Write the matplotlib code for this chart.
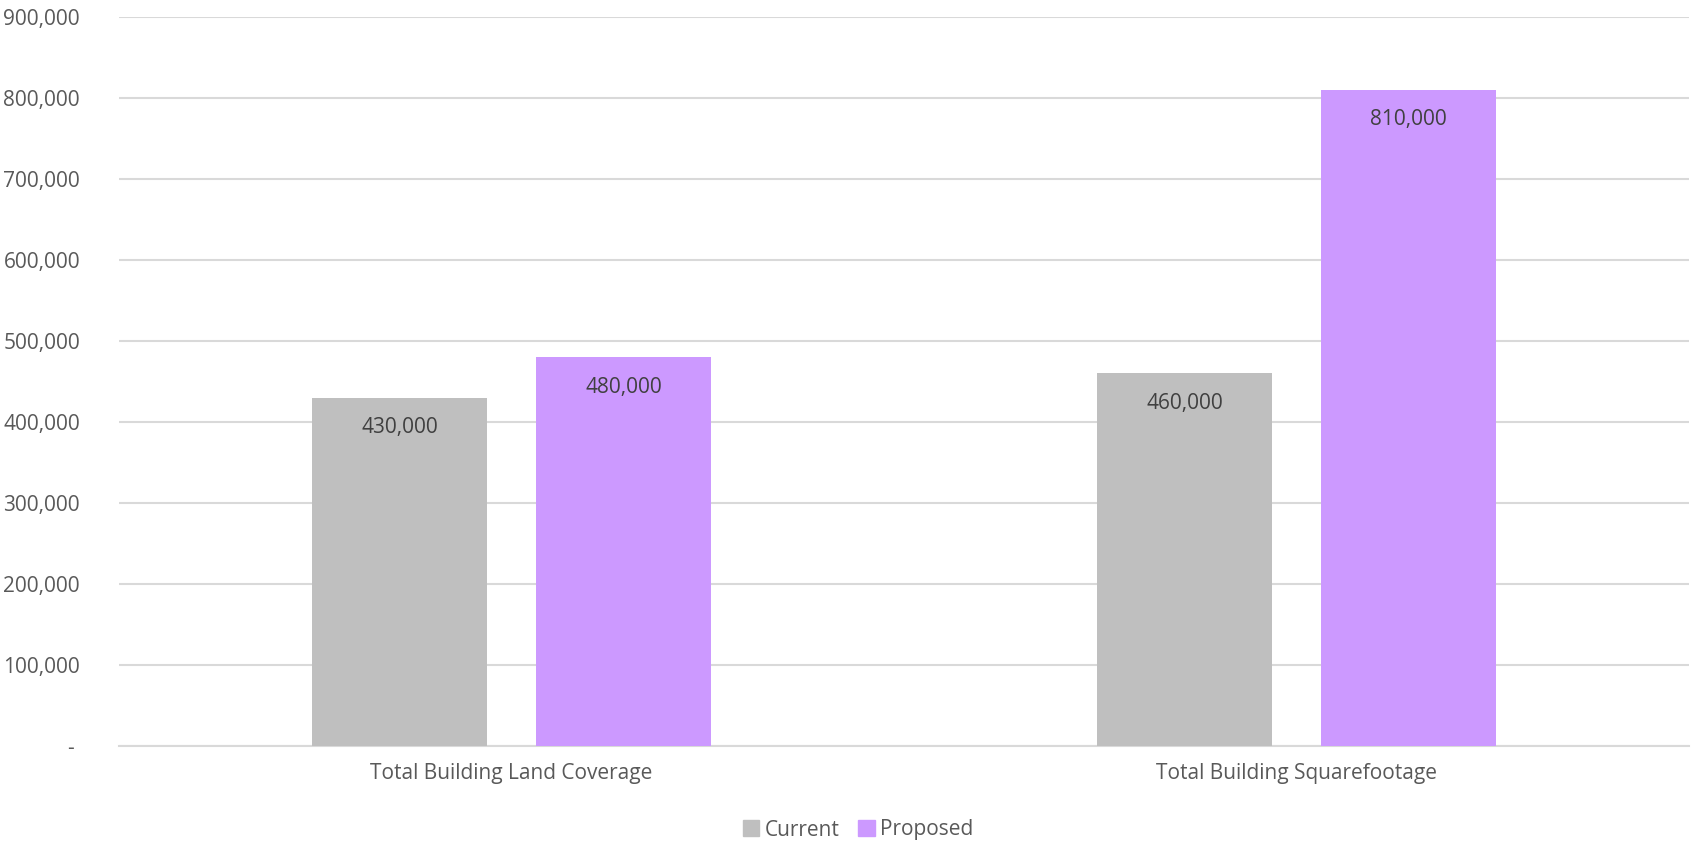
import numpy as np
import matplotlib
matplotlib.use("Agg")
import matplotlib.pyplot as plt
from matplotlib.ticker import FuncFormatter
from matplotlib.patches import Patch

# data
categories = ["Total Building Land Coverage", "Total Building Squarefootage"]
current = [430000, 460000]
proposed = [480000, 810000]
series_names = ["Current", "Proposed"]
yticks = [0, 100000, 200000, 300000, 400000, 500000, 600000, 700000, 800000, 900000]

plt.rcParams['font.family'] = ['Open Sans', 'DejaVu Sans']

fig = plt.figure(figsize=(16.92, 8.43), dpi=100)
ax = fig.add_axes([119 / 1692, 1 - 746 / 843, 1570 / 1692, (746 - 17) / 843])

x = np.arange(len(categories))
w = 0.224
off = 0.1426
b1 = ax.bar(x - off, current, w, color='#BFBFBF', zorder=3)
b2 = ax.bar(x + off, proposed, w, color='#CC99FF', zorder=3)

# value labels inside the top of each bar
for bars, vals in [(b1, current), (b2, proposed)]:
    for rect, v in zip(bars, vals):
        ax.annotate(f"{v:,.0f}", (rect.get_x() + rect.get_width() / 2, v),
                    xytext=(0, -21.5), textcoords='offset points',
                    ha='center', va='center', fontsize=15, color='#404040', zorder=4)

ax.set_xlim(-0.5, 1.5)
ax.set_ylim(0, 900000)
ax.set_yticks(yticks)
ax.yaxis.set_major_formatter(FuncFormatter(lambda v, p: "- " if v == 0 else f"{v:,.0f}"))
ax.set_xticks(x)
ax.set_xticklabels(categories)
ax.tick_params(axis='y', length=0, pad=28, labelsize=15, labelcolor='#595959')
ax.tick_params(axis='x', length=0, pad=12, labelsize=15, labelcolor='#595959')

ax.grid(axis='y', color='#D9D9D9', linewidth=1.5, zorder=0)
for s in ['top', 'right', 'left']:
    ax.spines[s].set_visible(False)
ax.spines['bottom'].set_color('#D9D9D9')
ax.spines['bottom'].set_linewidth(1.5)

handles = [Patch(color='#BFBFBF'), Patch(color='#CC99FF')]
fig.legend(handles, series_names, loc='center', bbox_to_anchor=(858 / 1692, 1 - 830 / 843),
           ncol=2, frameon=False, fontsize=15, labelcolor='#595959',
           handlelength=0.8, handleheight=0.8, handletextpad=0.25, columnspacing=0.9)

fig.savefig("out.png", dpi=100)
